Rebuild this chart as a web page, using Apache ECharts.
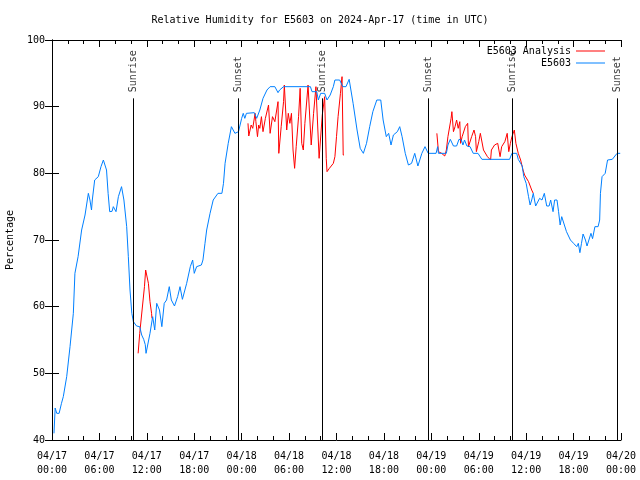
<!DOCTYPE html>
<html>
<head>
<meta charset="utf-8">
<script src="https://cdn.jsdelivr.net/npm/echarts@6/dist/echarts.min.js"></script>
<style>html,body{margin:0;padding:0;background:#fff;}#chart{width:640px;height:480px;}</style>
</head>
<body>
<div id="chart"></div>
<script>
// Time in hours since 2024-04-17 00:00 UTC
const observed = [[0.25,41],[0.4,44.8],[0.6,44],[0.9,44],[1.2,45.5],[1.43,46.5],[1.86,49.5],[2.28,54],[2.7,59],[2.9,65],[3.3,67.5],[3.75,71.5],[4.18,73.75],[4.6,77],[4.8,76],[5.0,74.5],[5.1,76],[5.4,79],[5.86,79.5],[6.2,81],[6.5,82],[6.9,80.5],[7.1,77],[7.3,74.25],[7.6,74.3],[7.76,75],[8.1,74.25],[8.4,76.5],[8.8,78],[9.1,76],[9.45,72],[9.66,67.5],[9.87,62.5],[10.1,59],[10.3,57.75],[10.7,57.1],[11.1,57],[11.35,55.75],[11.6,55.1],[11.8,54.3],[11.9,53],[12.06,53],[12.4,56],[12.74,58.5],[13,56.5],[13.25,60.5],[13.6,59.5],[13.9,57],[14.2,60.5],[14.5,61],[14.84,63],[15.1,61],[15.5,60.1],[15.9,61.5],[16.2,63],[16.5,61.1],[17.04,63.5],[17.5,66],[17.8,67],[18,65],[18.3,66],[18.9,66.25],[19.1,67],[19.36,69.5],[19.57,71.5],[20,74],[20.4,76],[21,77],[21.5,77],[21.7,78.5],[21.9,81.5],[22.3,84.5],[22.7,87],[23.15,86],[23.6,86.25],[24.0,88.25],[24.2,89],[24.4,88.25],[24.6,89],[25.6,89.1],[25.9,88.25],[26.3,89.5],[26.7,91.25],[27.2,92.5],[27.6,93],[28.2,93],[28.6,92.1],[28.8,92.5],[29.3,93],[32.7,93],[32.9,92.25],[33.5,92.25],[33.7,91],[34.0,92],[34.5,92],[34.8,91],[35.2,91.75],[35.6,93],[35.8,94],[36.4,94],[36.8,93],[37.2,93],[37.6,94.1],[37.8,94],[38.1,90.5],[38.6,86.5],[39,83.75],[39.2,84],[39.4,83],[39.8,84.5],[40.2,87],[40.6,89.25],[41.1,91],[41.6,91],[41.9,88],[42.3,85.5],[42.6,86],[42.9,84.25],[43.2,85.75],[43.7,86.25],[44.0,87],[44.3,85.5],[44.7,83],[45.1,81.25],[45.5,81.5],[45.9,83],[46.3,81.1],[46.8,83],[47.2,84],[47.6,83],[48.6,83],[48.8,84],[48.9,83],[49.9,83],[50.1,84.25],[50.4,85.1],[50.6,85.1],[50.8,84.1],[51.2,84.1],[51.5,85.1],[51.8,85],[52.0,84.25],[52.2,85],[52.5,84.1],[52.9,84],[53.3,83],[53.9,83],[54.4,82.1],[57.9,82.1],[58.2,83],[58.8,83],[59.0,82.1],[59.5,81.1],[59.7,79.5],[60,78.5],[60.3,76.5],[60.5,75.25],[60.7,76],[60.9,77],[61.2,75.1],[61.7,76.25],[62.0,76],[62.3,77],[62.6,75.1],[62.9,75.1],[63.1,76],[63.4,74.25],[63.6,76],[63.9,76],[64.1,74.25],[64.3,72.25],[64.5,73.5],[64.7,73.25],[65.1,71.25],[65.6,70],[66.0,69.5],[66.4,69],[66.6,69.5],[66.8,68.1],[67.0,69.5],[67.2,70.9],[67.5,70],[67.7,69.1],[67.9,69.1],[68.2,71],[68.4,70.2],[68.7,72],[69.1,72],[69.3,73],[69.4,77],[69.6,79.5],[70.0,80],[70.3,82],[70.9,82.1],[71.5,83],[71.9,83]];

const analysisSeg1 = [[10.9,53],[11.1,56],[11.4,59.5],[11.7,63],[11.85,65.5],[12.0,65.5],[12.2,63.5],[12.4,60.75],[12.6,59],[12.65,58.25]];
const analysisSeg2 = [[24.8,87.5],[24.9,85.6],[25.2,87.25],[25.4,86.75],[25.7,89],[25.8,87.75],[26.0,85.5],[26.15,87.25],[26.3,86.75],[26.5,88.5],[26.7,86.25],[27.0,88.25],[27.4,90.25],[27.6,86],[27.9,88.5],[28.2,87.75],[28.6,90.75],[28.7,83],[29.0,87],[29.3,90.75],[29.4,93.25],[29.7,86.5],[29.9,89],[30.1,87.5],[30.3,89],[30.5,83.5],[30.7,80.75],[30.9,84],[31.2,88.5],[31.4,92.75],[31.6,84.5],[31.8,83.5],[32.0,87.5],[32.4,93.25],[32.8,84.25],[33.1,89],[33.4,93],[33.8,82.25],[34.0,82.25],[34.2,88.75],[34.5,91.5],[34.7,82.25],[34.8,80.25],[35.1,80.75],[35.6,81.5],[35.8,82.5],[36.0,85.5],[36.2,88.5],[36.5,92],[36.7,94.5],[36.85,82.75],[36.95,82.75]];
const analysisSeg3 = [[48.7,86],[48.9,83.25],[49.3,83],[49.7,82.6],[49.9,83.5],[50.1,85.5],[50.5,88.25],[50.6,89.25],[50.8,86.25],[51.0,87],[51.2,88],[51.4,86.75],[51.6,87.75],[51.7,84.5],[51.9,85.5],[52.3,87],[52.6,87.5],[52.7,84],[53.1,85.5],[53.4,86.5],[53.6,85.5],[53.7,83.25],[54.0,84.75],[54.2,86],[54.4,86],[54.6,83.5],[55.1,82.5],[55.5,82],[55.6,83.5],[56.0,84.25],[56.4,84.5],[56.7,82.5],[56.9,84],[57.3,84.75],[57.6,86],[57.8,83.25],[58.0,84.5],[58.2,85.5],[58.5,86.5],[58.7,84.5],[59.0,83],[59.3,82],[59.6,80.5],[59.8,79.75],[60.3,78.75],[60.7,77.5],[60.9,77]];

const sunriseTimes = [10.25, 34.2, 58.25];
const sunsetTimes = [23.57, 47.6, 71.55];
const eventLineTop = 91.25;

const xTicks = [0, 6, 12, 18, 24, 30, 36, 42, 48, 54, 60, 66, 72];
const yTicks = [40, 50, 60, 70, 80, 90, 100];

const FONT = 'DejaVu Sans Mono';

const analysis = analysisSeg1.concat([[12.8, null]], analysisSeg2, [[37.0, null]], analysisSeg3);

const events = sunriseTimes.map(t => ({t, name: 'Sunrise'}))
  .concat(sunsetTimes.map(t => ({t, name: 'Sunset'})));

function xLabel(v) {
  const day = 17 + Math.floor(v / 24);
  const h = v % 24;
  return '04/' + day + '\n' + (h < 10 ? '0' : '') + h + ':00';
}

const axisLine = {show: true, lineStyle: {color: '#000', width: 1}};
const xCommon = {
  type: 'value', min: xTicks[0], max: xTicks[xTicks.length - 1], interval: 6,
  axisLine, splitLine: {show: false},
  axisTick: {show: true, inside: true, length: 7, lineStyle: {color: '#000'}},
  minorTick: {show: true, splitNumber: 3, length: 4, lineStyle: {color: '#000'}}
};
const yCommon = {
  type: 'value', min: yTicks[0], max: yTicks[yTicks.length - 1], interval: 10,
  axisLine, splitLine: {show: false},
  axisTick: {show: true, inside: true, length: 7, lineStyle: {color: '#000'}}
};

const chart = echarts.init(document.getElementById('chart'), null, {renderer: 'canvas'});
chart.setOption({
  animation: false,
  backgroundColor: '#fff',
  textStyle: {fontFamily: FONT},
  title: {
    text: 'Relative Humidity for E5603 on 2024-Apr-17 (time in UTC)',
    left: 'center', top: 10,
    textStyle: {fontFamily: FONT, fontSize: 10, fontWeight: 'normal', color: '#000'}
  },
  legend: {
    orient: 'vertical', right: 30, top: 41, align: 'right',
    icon: 'rect', itemWidth: 29, itemHeight: 1, itemGap: 2,
    textStyle: {fontFamily: FONT, fontSize: 10, color: '#000'},
    data: ['E5603 Analysis', 'E5603']
  },
  grid: {left: 52, right: 19, top: 40, bottom: 40, containLabel: false, outerBoundsMode: 'none'},
  xAxis: [
    Object.assign({}, xCommon, {
      position: 'bottom',
      axisLabel: {show: true, formatter: xLabel, margin: 9, lineHeight: 14, color: '#000', fontFamily: FONT, fontSize: 10, showMinLabel: true, showMaxLabel: true}
    }),
    Object.assign({}, xCommon, {position: 'top', axisLabel: {show: false}})
  ],
  yAxis: [
    Object.assign({}, yCommon, {
      position: 'left',
      name: 'Percentage', nameLocation: 'middle', nameRotate: 90, nameGap: 37,
      nameTextStyle: {fontFamily: FONT, fontSize: 10, color: '#000'},
      axisLabel: {show: true, margin: 7, color: '#000', fontFamily: FONT, fontSize: 10}
    }),
    Object.assign({}, yCommon, {position: 'right', axisLabel: {show: false}})
  ],
  series: [
    {
      name: 'E5603 Analysis', type: 'line', data: analysis,
      symbol: 'none', connectNulls: false, clip: true,
      lineStyle: {color: '#ff0000', width: 1}, itemStyle: {color: '#ff0000'},
      z: 3
    },
    {
      name: 'E5603', type: 'line', data: observed,
      symbol: 'none', clip: true,
      lineStyle: {color: '#0080ff', width: 1}, itemStyle: {color: '#0080ff'},
      z: 4
    },
    {
      name: 'events', type: 'scatter', symbolSize: 0, silent: true, z: 2,
      data: events.map(e => ({value: [e.t, eventLineTop], name: e.name})),
      label: {
        show: true, position: 'top', distance: 6, rotate: 90,
        align: 'left', verticalAlign: 'middle',
        formatter: p => p.name, color: '#000', fontFamily: FONT, fontSize: 10
      },
      markLine: {
        silent: true, symbol: 'none', animation: false,
        label: {show: false},
        lineStyle: {color: '#000', width: 1, type: 'solid'},
        data: events.map(e => [{coord: [e.t, eventLineTop]}, {coord: [e.t, yTicks[0]]}])
      }
    }
  ]
});
</script>
</body>
</html>
